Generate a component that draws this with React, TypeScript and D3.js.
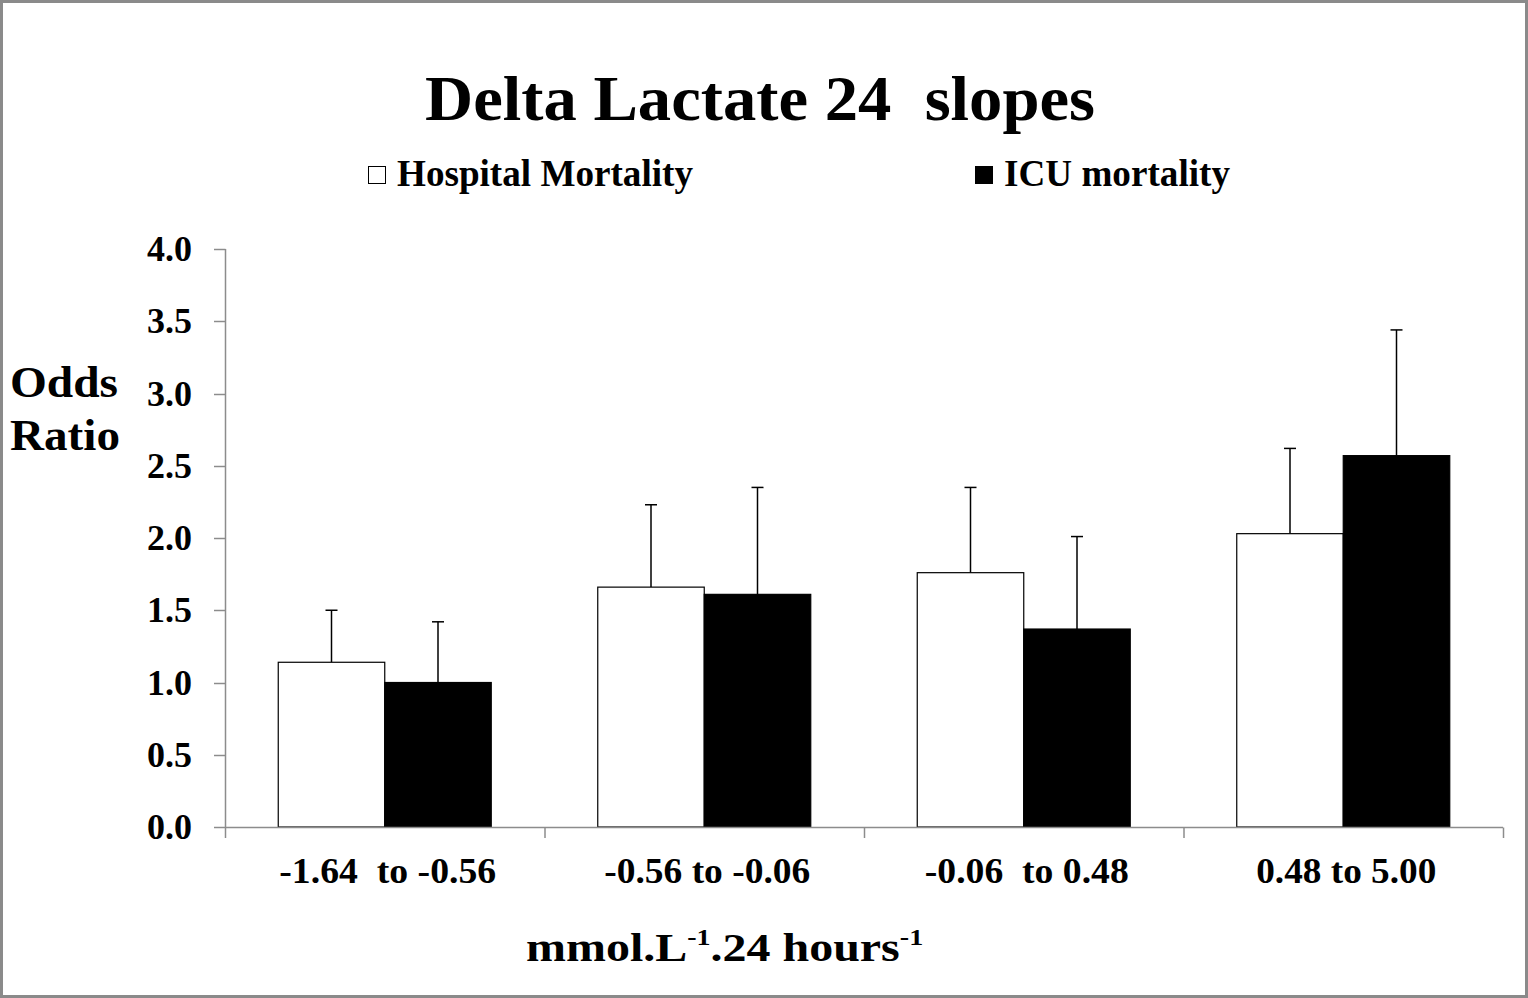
import React from "react";
import * as d3 from "d3";

const categories = ["-1.64  to -0.56", "-0.56 to -0.06", "-0.06  to 0.48", "0.48 to 5.00"];
const seriesNames = ["Hospital Mortality", "ICU mortality"];
const hospitalValues = [1.14, 1.66, 1.76, 2.03];
const hospitalUpper = [1.5, 2.23, 2.35, 2.62];
const icuValues = [1.0, 1.61, 1.37, 2.57];
const icuUpper = [1.42, 2.35, 2.01, 3.44];
const yTicks = [0, 0.5, 1, 1.5, 2, 2.5, 3, 3.5, 4];
const categoryLabelWidths = [217, 206, 204, 180];

const W = 1528;
const H = 998;
const FONT = "'Liberation Serif', 'Times New Roman', serif";

export default function App() {
  const x0 = d3.scaleBand<string>().domain(categories).range([225, 1503]).paddingInner(0).paddingOuter(0);
  const inner = d3.scaleBand<number>().domain([0, 1]).range([0, x0.bandwidth()]).paddingOuter(0.5).paddingInner(0);
  const y = d3.scaleLinear().domain([0, 4]).range([827, 249]);
  const series = [
    { name: seriesNames[0], values: hospitalValues, upper: hospitalUpper, fill: "#ffffff" },
    { name: seriesNames[1], values: icuValues, upper: icuUpper, fill: "#000000" },
  ];
  const axisColor = "#8c8c8c";
  const capHalf = 6;

  return (
    <div style={{ position: "absolute", left: 0, top: 0 }}>
      <svg width={W} height={H} style={{ display: "block", fontFamily: FONT }}>
        <rect x={0} y={0} width={W} height={H} fill="#fff" />
        <rect x={1.5} y={1.5} width={W - 3} height={H - 3} fill="none" stroke="#8a8a8a" strokeWidth={3} />

        <text x={425} y={120} fontSize={64} fontWeight="bold" textLength={670} lengthAdjust="spacingAndGlyphs" style={{ whiteSpace: "pre" }}>
          {"Delta Lactate 24  slopes"}
        </text>

        {/* legend */}
        <rect x={368.5} y={166.5} width={17} height={17} fill="#fff" stroke="#000" strokeWidth={1} />
        <text x={397} y={186} fontSize={37} fontWeight="bold" textLength={296} lengthAdjust="spacingAndGlyphs">
          {seriesNames[0]}
        </text>
        <rect x={975} y={166} width={18} height={18} fill="#000" />
        <text x={1004} y={186} fontSize={37} fontWeight="bold" textLength={226} lengthAdjust="spacingAndGlyphs">
          {seriesNames[1]}
        </text>

        {/* y axis */}
        <line x1={225.5} x2={225.5} y1={y(4)} y2={y(0)} stroke={axisColor} strokeWidth={1.5} />
        {yTicks.map((t) => (
          <g key={t}>
            <line x1={214} x2={225.5} y1={Math.round(y(t)) + 0.5} y2={Math.round(y(t)) + 0.5} stroke={axisColor} strokeWidth={1.5} />
            <text x={192} y={y(t) + 12} textAnchor="end" fontSize={35} fontWeight="bold" textLength={45} lengthAdjust="spacingAndGlyphs">
              {d3.format(".1f")(t)}
            </text>
          </g>
        ))}

        {/* bars */}
        {categories.map((c, i) => (
          <g key={c}>
            {series.map((s, j) => {
              const bx = (x0(c) as number) + (inner(j) as number);
              const bw = inner.bandwidth();
              const cx = bx + bw / 2;
              return (
                <g key={s.name}>
                  <line x1={cx} x2={cx} y1={y(s.values[i])} y2={y(s.upper[i])} stroke="#000" strokeWidth={1.5} />
                  <line x1={cx - capHalf} x2={cx + capHalf} y1={y(s.upper[i])} y2={y(s.upper[i])} stroke="#000" strokeWidth={1.5} />
                  <rect x={bx} y={y(s.values[i])} width={bw} height={y(0) - y(s.values[i])} fill={s.fill} stroke="#000" strokeWidth={1.2} />
                </g>
              );
            })}
          </g>
        ))}

        {/* x axis */}
        <line x1={225} x2={1503} y1={827.5} y2={827.5} stroke={axisColor} strokeWidth={1.5} />
        {[...categories.map((c) => x0(c) as number), 1503].map((tx, k) => (
          <line key={k} x1={tx + 0.5} x2={tx + 0.5} y1={827.5} y2={838} stroke={axisColor} strokeWidth={1.5} />
        ))}
        {categories.map((c, i) => (
          <text key={c} x={(x0(c) as number) + x0.bandwidth() / 2 + 3} y={883} textAnchor="middle" fontSize={35} fontWeight="bold" textLength={categoryLabelWidths[i]} lengthAdjust="spacingAndGlyphs" style={{ whiteSpace: "pre" }}>
            {c}
          </text>
        ))}

        {/* axis titles */}
        <text x={10} y={397} fontSize={44} fontWeight="bold" textLength={108} lengthAdjust="spacingAndGlyphs">Odds</text>
        <text x={10} y={450} fontSize={44} fontWeight="bold" textLength={110} lengthAdjust="spacingAndGlyphs">Ratio</text>

        <g transform="translate(526,961) scale(1.17,1)">
          <text x={0} y={0} fontSize={41} fontWeight="bold">
            mmol.L<tspan fontSize={24} dy={-16}>-1</tspan>
            <tspan dy={16}>.24 hours</tspan>
            <tspan fontSize={24} dy={-16}>-1</tspan>
          </text>
        </g>
      </svg>
    </div>
  );
}
